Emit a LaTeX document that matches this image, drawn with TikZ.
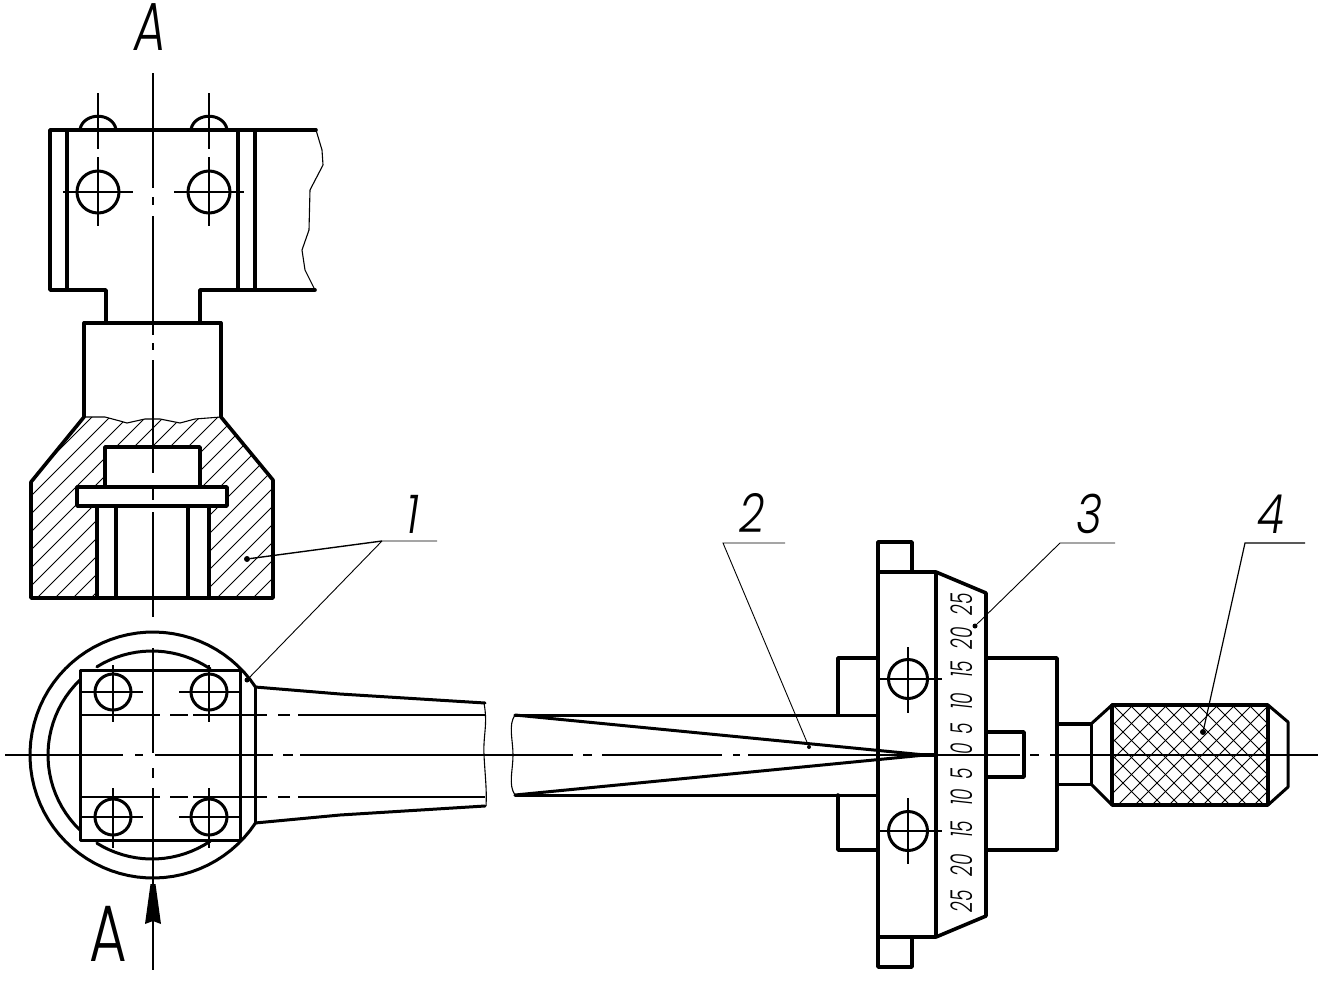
\documentclass[tikz,border=0pt]{standalone}
\usepackage{fontspec}
\newfontfamily\thinfont[UprightFont=*-Light,ItalicFont=*-LightItalic]{Poppins}
\begin{document}
\begin{tikzpicture}[x=1pt,y=-1pt,
  thick line/.style={line width=3.6pt,line cap=round,line join=round},
  med line/.style={line width=3pt,line cap=round,line join=round},
  center line/.style={line width=1.4pt},
  hatch line/.style={line width=0.9pt},
  bore/.style={line width=3pt},
  leader/.style={line width=0.9pt},
  dot/.style={circle,fill=black,inner sep=0pt,minimum size=6pt},
  num/.style={font=\thinfont\itshape\fontsize{54}{54}\selectfont,inner sep=0pt,xscale=.82,transform shape},
  scale mark/.style={font=\thinfont\itshape\fontsize{30}{30}\selectfont,inner sep=0pt,rotate=90,xscale=.62,transform shape}]
\useasboundingbox (0,0) rectangle (1324,990);

% ---- top view plate
\draw[thick line] (316,130) -- (50,130) -- (50,290) -- (106,290) -- (106,323);
\draw[thick line] (200,323) -- (200,290) -- (315,290);
\foreach \x in {67,238,255} \draw[thick line] (\x,130) -- (\x,290);
\draw[line width=1.1pt] (316,130) -- (322,150) -- (323,165) -- (310,190) -- (309,230) -- (302,250) -- (305,270) -- (315,290);
\foreach \x in {98,209} {
  \draw[med line] (\x-18,129) .. controls (\x-14,112) and (\x+14,112) .. (\x+18,129);
  \draw[bore] (\x,192) circle[radius=21pt];
  \draw[center line] (\x,93) -- (\x,149);
  \draw[center line] (\x,157) -- (\x,226);
  \draw[center line] (\x-35,192) -- (\x+35,192);
}

% ---- section: hatching
\begin{scope}
  \clip (84,417) -- (105,417) -- (120,421) -- (127,423) -- (145,419) -- (160,419) -- (180,423) -- (195,419) -- (221,417) -- (273,480) -- (273,598) -- (31,598) -- (31,482) -- cycle;
  \foreach \c in {455,473,...,905}
    \draw[hatch line] (\c-398,398) -- (\c-610,610);
\end{scope}
\fill[white] (105,447) rectangle (200,487);
\fill[white] (77,487) rectangle (227,506);
\fill[white] (97,506) rectangle (209,598);

% ---- section: outline
\draw[thick line] (84,323) -- (221,323);
\draw[thick line] (84,323) -- (84,417) -- (31,482) -- (31,598) -- (273,598) -- (273,480) -- (221,417) -- (221,323);
\draw[line width=1.1pt] (84,417) -- (105,417) -- (120,421) -- (127,423) -- (145,419) -- (160,419) -- (180,423) -- (195,419) -- (221,417);
\draw[thick line] (105,487) -- (105,447) -- (200,447) -- (200,487);
\draw[thick line] (77,487) rectangle (227,506);
\foreach \x in {97,116,188,209} \draw[thick line] (\x,506) -- (\x,598);

% ---- plan view head
\draw[med line] plot[domain=33.7:326.3,samples=70] ({153+123*cos(\x)},{755+123*sin(\x)});
\draw[med line] plot[domain=134:226,samples=24] ({152+104*cos(\x)},{755+104*sin(\x)});
\draw[med line] plot[domain=238:304,samples=18] ({152+104*cos(\x)},{755+104*sin(\x)});
\draw[med line] plot[domain=56:122,samples=18] ({152+104*cos(\x)},{755+104*sin(\x)});
\draw[med line,fill=white] (80,670) rectangle (240,840);
\draw[med line] (255,687) -- (255,823);
\foreach \x/\a/\b in {113/82/143,209/179/240} \foreach \y/\c/\d in {692/665/722,817/788/848} {
  \draw[bore] (\x,\y) circle[radius=18pt];
  \draw[center line] (\x,\c) -- (\x,\d);
  \draw[center line] (\a,\y) -- (\b,\y);
}
\foreach \y in {715,797} {
  \draw[center line] (80,\y) -- (160,\y);
  \draw[center line] (170,\y) -- (188,\y);
  \draw[center line] (193,\y) -- (267,\y);
  \draw[center line] (278,\y) -- (290,\y);
  \draw[center line] (298,\y) -- (485,\y);
}
\draw[med line] (255,687) -- (340,694) -- (485,703);
\draw[med line] (255,823) -- (340,815) -- (485,806);
\draw[line width=1.1pt] (484,703) .. controls (488,725) and (483,735) .. (484,755) .. controls (485,775) and (487,790) .. (486,806);

% ---- main vertical centre line
\foreach \a/\b in {73/188,197/205,216/335,343/350,360/473,485/500,512/617,648/753,768/778,788/970}
  \draw[center line] (153,\a) -- (153,\b);
% section arrow
\fill (150.5,884) -- (155.5,884) -- (161,924) -- (153,921) -- (145,924) -- cycle;

% ---- slide & scale
\draw[med line] (515,715) -- (878,715);
\draw[med line] (515,795) -- (878,795);
\draw[thick line] (838,715) -- (838,658) -- (878,658);
\draw[thick line] (838,795) -- (838,850) -- (878,850);
\draw[thick line] (986,658) -- (1057,658) -- (1057,850) -- (986,850);
\draw[thick line] (986,732) -- (1024,732) -- (1024,777) -- (986,777);
\draw[thick line] (878,542) rectangle (912,572);
\draw[thick line] (878,937) rectangle (912,967);
\draw[thick line,fill=white] (878,572) rectangle (936,937);
\draw[thick line] (936,572) -- (986,593) -- (986,916) -- (936,937);
\foreach \a/\b/\y in {647/713/679,798/864/831} {
  \draw[bore] (908,\y) circle[radius=19.5pt];
  \draw[center line] (908,\a) -- (908,\b);
  \draw[center line] (880,\y) -- (942,\y);
}
\node[scale mark] (s1) at (962,604) {25};
\node[scale mark] (s2) at (962,638) {20};
\node[scale mark] (s3) at (962,669) {15};
\node[scale mark] (s4) at (962,701) {10};
\node[scale mark] (s5) at (962,729) {5};
\node[scale mark] (s6) at (962,749) {0};
\node[scale mark] (s7) at (962,774) {5};
\node[scale mark] (s8) at (962,797) {10};
\node[scale mark] (s9) at (962,829) {15};
\node[scale mark] (s10) at (962,865) {20};
\node[scale mark] (s11) at (962,901) {25};

% ---- main horizontal centre line
\foreach \a/\b in {5/123,135/143,155/273,283/293,300/573,583/592,602/722,733/740,748/1020,1030/1039,1050/1318}
  \draw[center line] (\a,755) -- (\b,755);

% ---- pointer
\draw[line width=1.1pt] (515,715) .. controls (508,725) and (513,740) .. (513,755) .. controls (513,770) and (508,785) .. (515,795);
\draw[med line] (515,715) -- (925,755);
\draw[med line] (515,795) -- (925,755);
\draw[line width=4pt] (905,755) -- (936,755);

% ---- knob
\begin{scope}
  \clip (1112,705) rectangle (1268,805);
  \foreach \k in {-4,...,18} {
    \draw[hatch line] ({1838+17*\k-690},690) -- ({1838+17*\k-820},820);
    \draw[hatch line] ({408+17*\k+690},690) -- ({408+17*\k+820},820);
  }
\end{scope}
\draw[center line] (1050,755) -- (1318,755);
\draw[thick line] (1057,724) -- (1091,724);
\draw[med line] (1057,784) -- (1091,784);
\draw[med line] (1091,724) -- (1091,784);
\draw[med line] (1091,724) -- (1112,705);
\draw[med line] (1091,784) -- (1112,805);
\draw[thick line] (1112,705) rectangle (1268,805);
\draw[med line] (1268,705) -- (1288,722) -- (1288,787) -- (1268,805);

% ---- leaders and labels
\coordinate (h1) at (382,541); \coordinate (e1) at (437,541);
\coordinate (h2) at (723,543); \coordinate (e2) at (785,543);
\coordinate (h3) at (1060,543); \coordinate (e3) at (1115,543);
\coordinate (h4) at (1245,543); \coordinate (e4) at (1305,543);
\node[dot] (t1a) at (247,559) {};
\node[dot,minimum size=5pt] (t1b) at (247,680) {};
\node[dot,minimum size=4pt] (t2) at (809,747) {};
\node[dot,minimum size=5pt] (t3) at (975,626) {};
\node[dot] (t4) at (1203,732) {};
\draw[leader] (e1) -- (h1) -- (t1b);
\draw[line width=1.4pt] (h1) -- (t1a);
\draw[leader] (e2) -- (h2) -- (t2);
\draw[leader] (e3) -- (h3) -- (t3);
\draw[line width=1.2pt] (e4) -- (h4) -- (t4);
\node[num] (n1) at (413,514) {1};
\node[num] (n2) at (752,513) {2};
\node[num] (n3) at (1089,514) {3};
\node[num] (n4) at (1271,514) {4};
\node[font=\thinfont\itshape\fontsize{68}{68}\selectfont,inner sep=0pt,xscale=.72,transform shape] (atop) at (150,27) {A};
\node[font=\thinfont\fontsize{80}{80}\selectfont,inner sep=0pt,xscale=.72,transform shape] (abot) at (108,934) {A};
\end{tikzpicture}
\end{document}
